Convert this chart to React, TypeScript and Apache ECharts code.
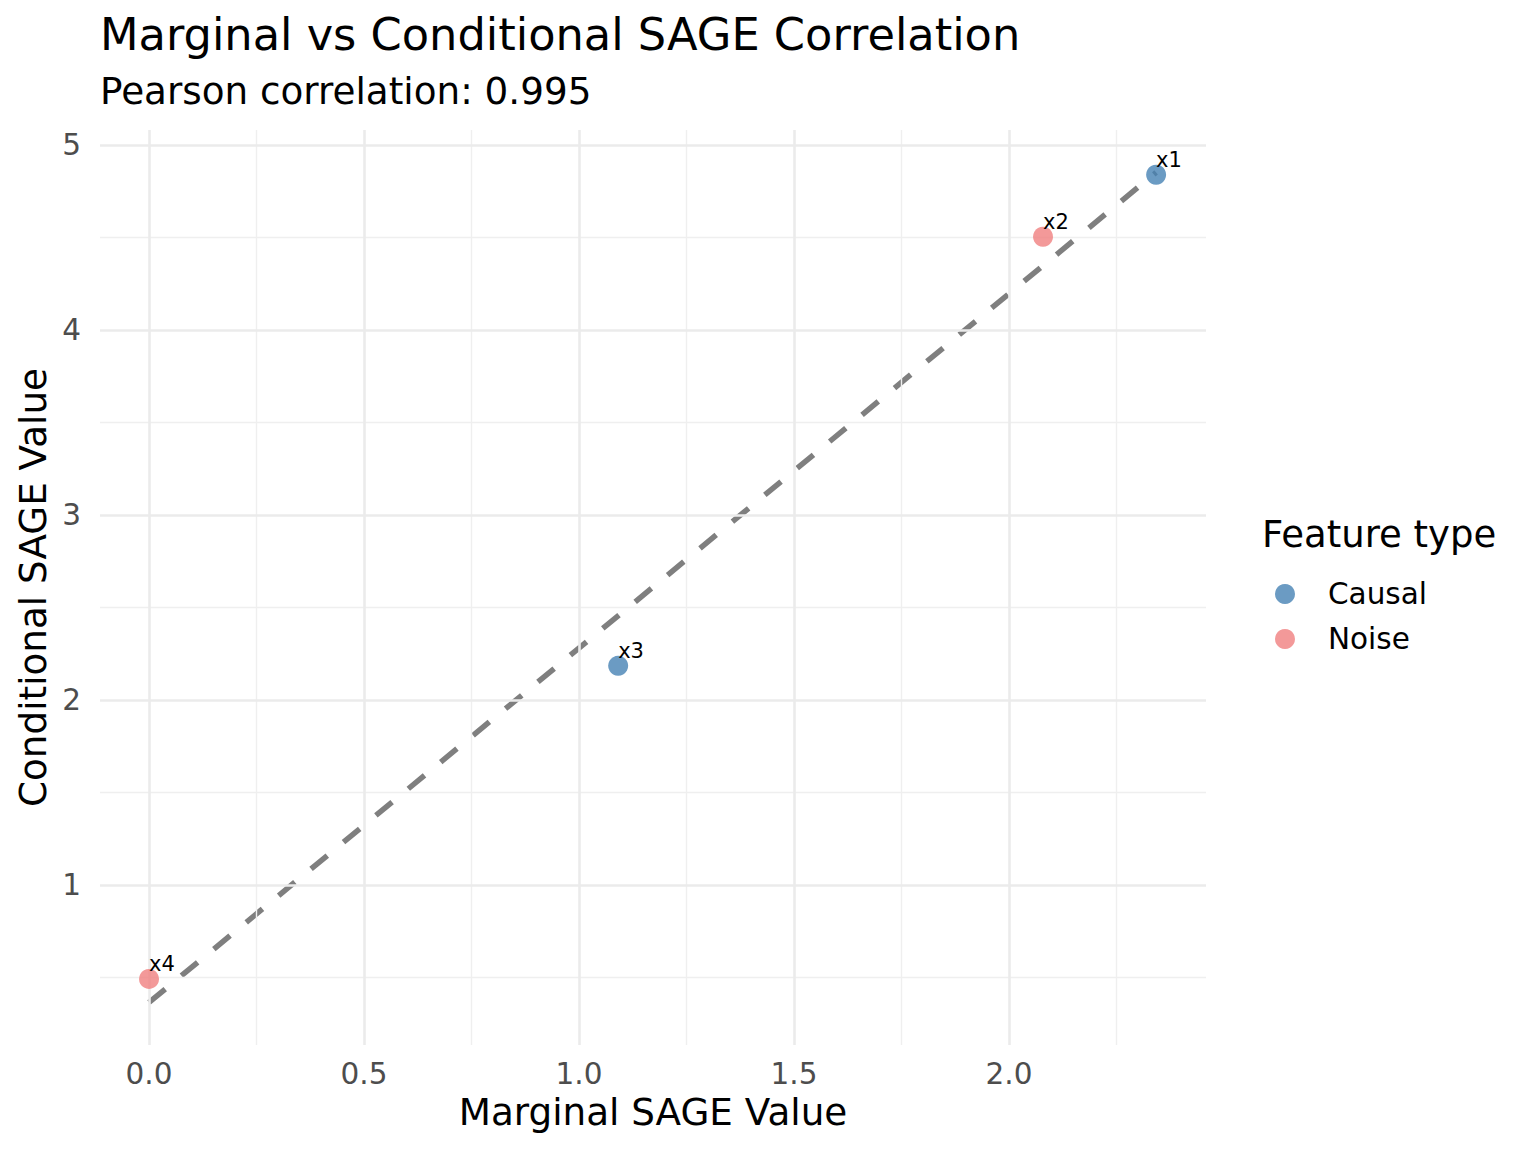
import React, { useEffect, useRef } from "react";
import * as echarts from "echarts";

// ---- data ----
const features = ["x1", "x2", "x3", "x4"];
const marginal = [2.342, 2.079, 1.091, 0.0];
const conditional = [4.838, 4.503, 2.184, 0.492];
const featureType = ["Causal", "Noise", "Causal", "Noise"];
const groups = ["Causal", "Noise"];
const groupColors = ["#4682B4", "#F08080"];

const xMajor = [0, 0.5, 1.0, 1.5, 2.0];
const xMinor = [0.25, 0.75, 1.25, 1.75, 2.25];
const yMajor = [1, 2, 3, 4, 5];
const yMinor = [0.5, 1.5, 2.5, 3.5, 4.5];

const titleText = "Marginal vs Conditional SAGE Correlation";
const subtitleText = "Pearson correlation: 0.995";
const xTitle = "Marginal SAGE Value";
const yTitle = "Conditional SAGE Value";
const legendTitle = "Feature type";

const FONT = "DejaVu Sans";

function fitLine(xs: number[], ys: number[]) {
  const n = xs.length;
  const mx = xs.reduce((a, b) => a + b, 0) / n;
  const my = ys.reduce((a, b) => a + b, 0) / n;
  let sxy = 0;
  let sxx = 0;
  for (let i = 0; i < n; i++) {
    sxy += (xs[i] - mx) * (ys[i] - my);
    sxx += (xs[i] - mx) * (xs[i] - mx);
  }
  const b = sxy / sxx;
  const a = my - b * mx;
  const x0 = Math.min(...xs);
  const x1 = Math.max(...xs);
  return [
    [x0, a + b * x0],
    [x1, a + b * x1],
  ];
}

export default function App() {
  const ref = useRef<HTMLDivElement>(null);
  useEffect(() => {
    if (!ref.current) return;
    const chart = echarts.init(ref.current, null, { renderer: "svg" });

    const gridLines: any[] = [];
    const major = { color: "#EBEBEB", width: 2.6, type: "solid" };
    const minor = { color: "#EFEFEF", width: 1.4, type: "solid" };
    xMinor.forEach((v) => gridLines.push({ xAxis: v, lineStyle: minor }));
    yMinor.forEach((v) => gridLines.push({ yAxis: v, lineStyle: minor }));
    xMajor.forEach((v) => gridLines.push({ xAxis: v, lineStyle: major }));
    yMajor.forEach((v) => gridLines.push({ yAxis: v, lineStyle: major }));

    const scatterSeries = groups.map((g, gi) => ({
      type: "scatter",
      name: g,
      z: 5,
      symbol: "circle",
      symbolSize: 20,
      itemStyle: { color: groupColors[gi], opacity: 0.8 },
      label: {
        show: true,
        formatter: "{b}",
        position: [10, 6],
        align: "left",
        verticalAlign: "bottom",
        fontFamily: FONT,
        fontSize: 21,
        lineHeight: 21,
        color: "#000000",
        opacity: 1,
      },
      data: features
        .map((f, i) => ({ name: f, value: [marginal[i], conditional[i]], t: featureType[i] }))
        .filter((d) => d.t === g)
        .map((d) => ({ name: d.name, value: d.value })),
    }));

    chart.setOption({
      animation: false,
      backgroundColor: "#FFFFFF",
      textStyle: { fontFamily: FONT },
      grid: { left: 100, right: 330, top: 130, bottom: 107, containLabel: false },
      xAxis: {
        type: "value",
        min: -0.114,
        max: 2.458,
        name: xTitle,
        nameLocation: "middle",
        nameGap: 43,
        nameTextStyle: { fontFamily: FONT, fontSize: 37.3, color: "#000000" },
        axisLine: { show: false },
        axisTick: { show: false },
        splitLine: { show: false },
        axisLabel: {
          customValues: xMajor,
          formatter: (v: number) => v.toFixed(1),
          fontFamily: FONT,
          fontSize: 29.5,
          color: "#4D4D4D",
          margin: 14,
        },
      },
      yAxis: {
        type: "value",
        min: 0.135,
        max: 5.08,
        name: yTitle,
        nameLocation: "middle",
        nameGap: 46,
        nameTextStyle: { fontFamily: FONT, fontSize: 37.3, color: "#000000" },
        axisLine: { show: false },
        axisTick: { show: false },
        splitLine: { show: false },
        axisLabel: {
          customValues: yMajor,
          formatter: (v: number) => String(v),
          fontFamily: FONT,
          fontSize: 29.5,
          color: "#4D4D4D",
          margin: 19,
        },
      },
      legend: {
        orient: "vertical",
        left: 1275,
        top: 579,
        padding: 0,
        itemWidth: 20,
        itemHeight: 20,
        itemGap: 15,
        icon: "circle",
        data: groups,
        textStyle: {
          fontFamily: FONT,
          fontSize: 29.5,
          lineHeight: 20,
          color: "#000000",
          padding: [0, 0, 0, 28],
        },
      },
      graphic: [
        {
          type: "text",
          left: 100,
          top: 12,
          style: { text: titleText, fontFamily: FONT, fontSize: 44.7, fill: "#000000" },
        },
        {
          type: "text",
          left: 100,
          top: 72,
          style: { text: subtitleText, fontFamily: FONT, fontSize: 37.3, fill: "#000000" },
        },
        {
          type: "text",
          left: 1262,
          top: 516,
          style: { text: legendTitle, fontFamily: FONT, fontSize: 37, fill: "#000000" },
        },
      ],
      series: [
        {
          type: "line",
          name: "grid",
          z: 0,
          data: [],
          silent: true,
          markLine: {
            silent: true,
            symbol: ["none", "none"],
            label: { show: false },
            emphasis: { disabled: true },
            data: gridLines,
          },
        },
        {
          type: "line",
          name: "fit",
          z: 3,
          silent: true,
          showSymbol: false,
          symbol: "none",
          lineStyle: { color: "#7F7F7F", width: 5.5, type: [21, 21], cap: "butt" },
          data: fitLine(marginal, conditional),
        },
        ...scatterSeries,
      ],
    });
    return () => chart.dispose();
  }, []);
  return (
    <div
      ref={ref}
      style={{ position: "absolute", left: 0, top: 0, width: 1536, height: 1152 }}
    />
  );
}
